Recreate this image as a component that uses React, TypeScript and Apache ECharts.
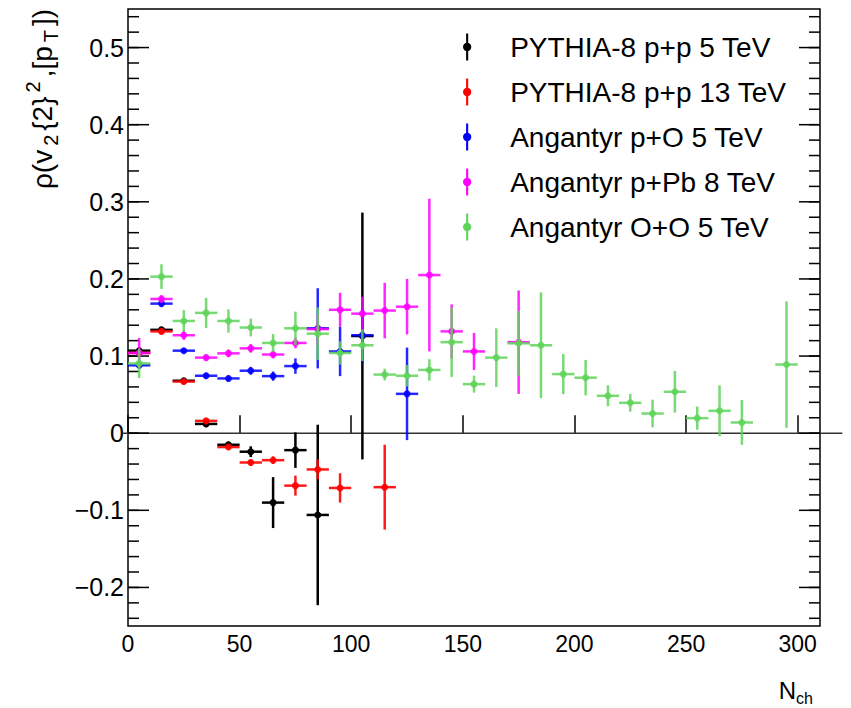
import React, { useEffect, useRef } from "react";
import * as echarts from "echarts";

// ---- Data ----
const BIN_HALF_WIDTH = 5;

const seriesNames = [
  "PYTHIA-8 p+p 5 TeV",
  "PYTHIA-8 p+p 13 TeV",
  "Angantyr p+O 5 TeV",
  "Angantyr p+Pb 8 TeV",
  "Angantyr O+O 5 TeV",
];
const seriesColors = ["#000000", "#ff0000", "#0000ff", "#ff00ff", "#5fd35a"];

const pp5X = [5, 15, 25, 35, 45, 55, 65, 75, 85, 105];
const pp5Y = [0.107, 0.134, 0.068, 0.012, -0.015, -0.024, -0.09, -0.022, -0.106, 0.126];
const pp5E = [0.004, 0.004, 0.003, 0.004, 0.004, 0.007, 0.033, 0.023, 0.117, 0.16];

const pp13X = [5, 15, 25, 35, 45, 55, 65, 75, 85, 95, 115];
const pp13Y = [0.104, 0.132, 0.067, 0.016, -0.018, -0.038, -0.035, -0.068, -0.047, -0.071, -0.07];
const pp13E = [0.003, 0.003, 0.003, 0.003, 0.003, 0.004, 0.005, 0.013, 0.013, 0.019, 0.055];

const pOX = [5, 15, 25, 35, 45, 55, 65, 75, 85, 95, 105, 125];
const pOY = [0.088, 0.168, 0.107, 0.0745, 0.071, 0.081, 0.074, 0.087, 0.136, 0.106, 0.127, 0.051];
const pOE = [0.004, 0.004, 0.003, 0.004, 0.004, 0.005, 0.006, 0.01, 0.052, 0.032, 0.035, 0.06];

const pPbX = [5, 15, 25, 35, 45, 55, 65, 75, 85, 95, 105, 115, 125, 135, 145, 155, 175];
const pPbY = [0.104, 0.174, 0.127, 0.098, 0.1035, 0.11, 0.102, 0.117, 0.135, 0.16, 0.155, 0.159, 0.164, 0.205, 0.132, 0.106, 0.118];
const pPbE = [0.0195, 0.005, 0.006, 0.004, 0.005, 0.0056, 0.005, 0.007, 0.02, 0.022, 0.022, 0.036, 0.036, 0.099, 0.035, 0.024, 0.067];

const OOX = [5, 15, 25, 35, 45, 55, 65, 75, 85, 95, 105, 115, 125, 135, 145, 155, 165, 175, 185, 195, 205, 215, 225, 235, 245, 255, 265, 275, 295];
const OOY = [0.0905, 0.203, 0.1455, 0.156, 0.1455, 0.137, 0.117, 0.136, 0.129, 0.104, 0.114, 0.076, 0.0745, 0.082, 0.118, 0.0636, 0.098, 0.1165, 0.114, 0.0766, 0.072, 0.0485, 0.0394, 0.0255, 0.0537, 0.0195, 0.029, 0.0139, 0.089];
const OOE = [0.019, 0.016, 0.014, 0.0195, 0.015, 0.0115, 0.0115, 0.0216, 0.034, 0.015, 0.0205, 0.0076, 0.014, 0.014, 0.045, 0.011, 0.038, 0.042, 0.0686, 0.026, 0.023, 0.0136, 0.0115, 0.018, 0.027, 0.015, 0.033, 0.029, 0.082];

const X_MIN = 0;
const X_MAX = 310;
const Y_MIN = -0.25;
const Y_MAX = 0.55;
const yMajorTicks = [-0.2, -0.1, 0, 0.1, 0.2, 0.3, 0.4, 0.5];
const yMinorTicks: number[] = [];
for (let k = -12; k <= 27; k++) yMinorTicks.push(Math.round(k * 2) / 100);
const zeroLine = [[-2.5, 320, 0]];

const FONT = "'Liberation Sans', Arial, Helvetica, sans-serif";

function errorSeries(name: string, color: string, xs: number[], ys: number[], es: number[], opacity: number) {
  return {
    type: "custom",
    name,
    itemStyle: { color },
    clip: false,
    encode: { x: 0, y: 1 },
    data: xs.map((x, i) => [x, ys[i], es[i]]),
    renderItem: (params: any, api: any) => {
      const x = api.value(0);
      const y = api.value(1);
      const e = api.value(2);
      const pl = api.coord([x - BIN_HALF_WIDTH, y]);
      const pr = api.coord([x + BIN_HALF_WIDTH, y]);
      const pt = api.coord([x, y + e]);
      const pb = api.coord([x, y - e]);
      const pc = api.coord([x, y]);
      const ls = { stroke: color, lineWidth: 2.5, opacity };
      return {
        type: "group",
        children: [
          { type: "line", shape: { x1: pl[0], y1: pl[1], x2: pr[0], y2: pr[1] }, style: ls },
          { type: "line", shape: { x1: pt[0], y1: pt[1], x2: pb[0], y2: pb[1] }, style: ls },
          { type: "circle", shape: { cx: pc[0], cy: pc[1], r: 3.5 }, style: { fill: color, opacity } },
        ],
      };
    },
  };
}

function yTickSeries(values: number[], len: number) {
  return {
    type: "custom",
    silent: true,
    clip: false,
    encode: { y: 0 },
    data: values.map((v) => [v]),
    renderItem: (params: any, api: any) => {
      const v = api.value(0);
      const l = api.coord([X_MIN, v]);
      const r = api.coord([X_MAX, v]);
      const st = { stroke: "#000", lineWidth: 1.5 };
      return {
        type: "group",
        children: [
          { type: "line", shape: { x1: l[0], y1: l[1], x2: l[0] + len, y2: l[1] }, style: st },
          { type: "line", shape: { x1: r[0], y1: r[1], x2: r[0] - len, y2: r[1] }, style: st },
        ],
      };
    },
  };
}

export default function App() {
  const ref = useRef<HTMLDivElement>(null);
  useEffect(() => {
    if (!ref.current) return;
    const chart = echarts.init(ref.current, undefined, { renderer: "svg" });
    const legendIcon = "path://M3,0 L5,0 L5,26 L3,26 Z M4,9 A4,4 0 1 1 4,17 A4,4 0 1 1 4,9 Z";
    const option: any = {
      animation: false,
      backgroundColor: "#ffffff",
      grid: { left: 128, top: 9, right: 31, bottom: 82, show: true, borderColor: "#000", borderWidth: 1.5, backgroundColor: "transparent" },
      legend: {
        data: seriesNames.map((n) => ({ name: n, icon: legendIcon })),
        orient: "vertical",
        left: 458,
        top: 27,
        itemWidth: 76,
        itemHeight: 27,
        itemGap: 15,
        symbolKeepAspect: true,
        selectedMode: false,
        textStyle: { fontSize: 28, lineHeight: 30, color: "#000", fontFamily: FONT },
      },
      xAxis: {
        type: "value",
        min: X_MIN,
        max: X_MAX,
        interval: 50,
        splitLine: { show: false },
        axisLine: { show: false },
        axisTick: { show: true, inside: true, length: 18, lineStyle: { color: "#000", width: 1.5 } },
        axisLabel: { fontSize: 23, color: "#000", fontFamily: FONT, margin: 6, showMaxLabel: false },
      },
      yAxis: {
        type: "value",
        min: Y_MIN,
        max: Y_MAX,
        interval: 0.05,
        splitLine: { show: false },
        axisLine: { show: false },
        axisTick: { show: false },
        axisLabel: {
          fontSize: 25,
          color: "#000",
          fontFamily: FONT,
          margin: 4,
          showMinLabel: false,
          showMaxLabel: false,
          formatter: (v: number) => {
            const r = Math.round(v * 10);
            if (Math.abs(v * 10 - r) > 1e-6) return "";
            if (r === 0) return "0";
            return (r < 0 ? "\u2212" : "") + (Math.abs(r) / 10).toFixed(1);
          },
        },
      },
      graphic: [
        {
          type: "text",
          x: 42,
          y: 99,
          rotation: Math.PI / 2,
          style: {
            text: "ρ(v{sub|2}{2}{sup|2},[p{sub|T}])",
            fontSize: 28,
            lineHeight: 38,
            fontFamily: FONT,
            fill: "#000",
            align: "center",
            verticalAlign: "middle",
            rich: {
              sub: { fontSize: 20, lineHeight: 20, verticalAlign: "bottom", padding: [0, 4], fontFamily: FONT, fill: "#000" },
              sup: { fontSize: 20, lineHeight: 20, verticalAlign: "top", padding: [0, 4], fontFamily: FONT, fill: "#000" },
            },
          },
        },
        {
          type: "text",
          right: 38,
          top: 674,
          style: {
            text: "N{sub|ch}",
            fontSize: 24,
            lineHeight: 32,
            fontFamily: FONT,
            fill: "#000",
            rich: {
              sub: { fontSize: 16, lineHeight: 16, verticalAlign: "bottom", fontFamily: FONT, fill: "#000" },
            },
          },
        },
      ],
      series: [
        {
          type: "custom",
          silent: true,
          clip: false,
          z: 1,
          data: zeroLine,
          encode: { x: [0, 1], y: 2 },
          renderItem: (params: any, api: any) => {
            const a = api.coord([api.value(0), api.value(2)]);
            const b = api.coord([api.value(1), api.value(2)]);
            return { type: "line", shape: { x1: a[0], y1: a[1], x2: b[0], y2: b[1] }, style: { stroke: "#333", lineWidth: 1.5 } };
          },
        },
        yTickSeries(yMajorTicks, 21),
        yTickSeries(yMinorTicks, 11),
        errorSeries(seriesNames[0], seriesColors[0], pp5X, pp5Y, pp5E, 1),
        errorSeries(seriesNames[1], seriesColors[1], pp13X, pp13Y, pp13E, 0.9),
        errorSeries(seriesNames[2], seriesColors[2], pOX, pOY, pOE, 0.85),
        errorSeries(seriesNames[3], seriesColors[3], pPbX, pPbY, pPbE, 0.85),
        errorSeries(seriesNames[4], seriesColors[4], OOX, OOY, OOE, 0.85),
      ],
    };
    chart.setOption(option);
    return () => chart.dispose();
  }, []);
  return <div ref={ref} style={{ position: "fixed", left: 0, top: 0, width: 851, height: 708 }} />;
}
